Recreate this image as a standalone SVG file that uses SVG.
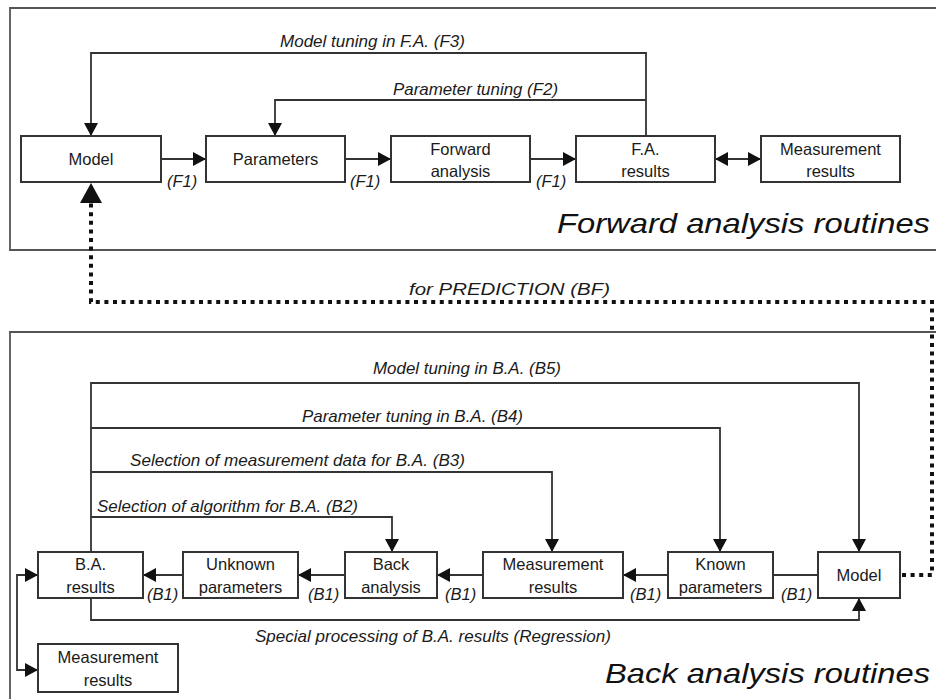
<svg xmlns="http://www.w3.org/2000/svg" width="936" height="699" viewBox="0 0 936 699">
  <style>
    .frame { fill: none; stroke: #555; stroke-width: 1.8; }
    .box rect { fill: #fff; stroke: #333; stroke-width: 2; }
    .box text { font-family: "Liberation Sans", Arial, sans-serif; font-size: 16.5px; fill: #1a1a1a; text-anchor: middle; }
    .wire { fill: none; stroke: #333; stroke-width: 1.8; }
    .dots { fill: none; stroke: #111; stroke-width: 4; stroke-dasharray: 4 4.6; }
    .lbl { font-family: "Liberation Sans", Arial, sans-serif; font-size: 16.5px; font-style: italic; fill: #1a1a1a; }
    .title { font-family: "Liberation Sans", Arial, sans-serif; font-size: 28px; font-style: italic; fill: #111; }
  </style>
  <defs>
    <marker id="ah" viewBox="0 0 13 14" refX="13" refY="7" markerWidth="13" markerHeight="14" markerUnits="userSpaceOnUse" orient="auto-start-reverse">
      <path d="M0,0 L13,7 L0,14 z" fill="#111"/>
    </marker>
    <marker id="ahBig" viewBox="0 0 20 22" refX="20" refY="11" markerWidth="20" markerHeight="22" markerUnits="userSpaceOnUse" orient="auto">
      <path d="M0,0 L20,11 L0,22 z" fill="#111"/>
    </marker>
  </defs>

  <!-- section frames -->
  <g id="frames">
    <path class="frame" d="M945,8 H10 V250 H945"/>
    <path class="frame" d="M945,332 H10 V710"/>
  </g>

  <!-- section titles -->
  <text class="title" x="557" y="233" textLength="373" lengthAdjust="spacingAndGlyphs">Forward analysis routines</text>
  <text class="title" x="605" y="683" textLength="325" lengthAdjust="spacingAndGlyphs">Back analysis routines</text>

  <!-- connectors -->
  <g id="connectors">
    <!-- forward chain -->
    <path class="wire" d="M161,159 H206" marker-end="url(#ah)"/>
    <path class="wire" d="M345,159 H391" marker-end="url(#ah)"/>
    <path class="wire" d="M530,159 H576" marker-end="url(#ah)"/>
    <path class="wire" d="M715,159 H761" marker-start="url(#ah)" marker-end="url(#ah)"/>
    <!-- forward feedback loops -->
    <path class="wire" d="M646,136 V53 H91 V136" marker-end="url(#ah)"/>
    <path class="wire" d="M646,100 H275 V136" marker-end="url(#ah)"/>

    <!-- prediction link -->
    <path class="dots" d="M902,575 H932 V302 H91 V183" marker-end="url(#ahBig)"/>

    <!-- back chain -->
    <path class="wire" d="M818,575 H773"/>
    <path class="wire" d="M668,575 H623" marker-end="url(#ah)"/>
    <path class="wire" d="M483,575 H437" marker-end="url(#ah)"/>
    <path class="wire" d="M345,575 H298" marker-end="url(#ah)"/>
    <path class="wire" d="M183,575 H143" marker-end="url(#ah)"/>

    <!-- back feedback loops -->
    <path class="wire" d="M91,552 V383 H859 V552" marker-end="url(#ah)"/>
    <path class="wire" d="M91,428 H720 V552" marker-end="url(#ah)"/>
    <path class="wire" d="M91,472 H552 V552" marker-end="url(#ah)"/>
    <path class="wire" d="M91,517 H392 V552" marker-end="url(#ah)"/>
    <path class="wire" d="M91,598 V620 H859 V598" marker-end="url(#ah)"/>

    <!-- results comparison -->
    <path class="wire" d="M38,575 H17 V670 H38" marker-start="url(#ah)" marker-end="url(#ah)"/>
  </g>

  <!-- connector labels -->
  <g id="labels">
    <text class="lbl" x="280" y="47" textLength="185" lengthAdjust="spacingAndGlyphs">Model tuning in F.A. (F3)</text>
    <text class="lbl" x="393" y="95" textLength="165" lengthAdjust="spacingAndGlyphs">Parameter tuning (F2)</text>
    <text class="lbl" x="167" y="187">(F1)</text>
    <text class="lbl" x="350" y="187">(F1)</text>
    <text class="lbl" x="536" y="187">(F1)</text>
    <text class="lbl" x="409" y="295" textLength="201" lengthAdjust="spacingAndGlyphs">for PREDICTION (BF)</text>
    <text class="lbl" x="373" y="374" textLength="188" lengthAdjust="spacingAndGlyphs">Model tuning in B.A. (B5)</text>
    <text class="lbl" x="302" y="422" textLength="221" lengthAdjust="spacingAndGlyphs">Parameter tuning in B.A. (B4)</text>
    <text class="lbl" x="130" y="466" textLength="335" lengthAdjust="spacingAndGlyphs">Selection of measurement data for B.A. (B3)</text>
    <text class="lbl" x="97" y="512" textLength="261" lengthAdjust="spacingAndGlyphs">Selection of algorithm for B.A. (B2)</text>
    <text class="lbl" x="147" y="600">(B1)</text>
    <text class="lbl" x="308" y="600">(B1)</text>
    <text class="lbl" x="445" y="600">(B1)</text>
    <text class="lbl" x="630" y="600">(B1)</text>
    <text class="lbl" x="781" y="600">(B1)</text>
    <text class="lbl" x="255" y="642" textLength="356" lengthAdjust="spacingAndGlyphs">Special processing of B.A. results (Regression)</text>
  </g>

  <!-- forward analysis nodes -->
  <g id="fa-model" class="box">
    <rect x="21" y="136" width="140" height="46"/>
    <text x="91" y="165">Model</text>
  </g>
  <g id="fa-parameters" class="box">
    <rect x="206" y="136" width="139" height="46"/>
    <text x="275.5" y="165">Parameters</text>
  </g>
  <g id="fa-forward-analysis" class="box">
    <rect x="391" y="136" width="139" height="46"/>
    <text x="460.5" y="155">Forward</text>
    <text x="460.5" y="177">analysis</text>
  </g>
  <g id="fa-results" class="box">
    <rect x="576" y="136" width="139" height="46"/>
    <text x="645.5" y="155">F.A.</text>
    <text x="645.5" y="177">results</text>
  </g>
  <g id="fa-measurement" class="box">
    <rect x="761" y="136" width="139" height="46"/>
    <text x="830.5" y="155">Measurement</text>
    <text x="830.5" y="177">results</text>
  </g>

  <!-- back analysis nodes -->
  <g id="ba-results" class="box">
    <rect x="38" y="552" width="105" height="46"/>
    <text x="90.5" y="570">B.A.</text>
    <text x="90.5" y="593">results</text>
  </g>
  <g id="ba-unknown-parameters" class="box">
    <rect x="183" y="552" width="115" height="46"/>
    <text x="240.5" y="570">Unknown</text>
    <text x="240.5" y="593">parameters</text>
  </g>
  <g id="ba-back-analysis" class="box">
    <rect x="345" y="552" width="92" height="46"/>
    <text x="391" y="570">Back</text>
    <text x="391" y="593">analysis</text>
  </g>
  <g id="ba-measurement" class="box">
    <rect x="483" y="552" width="140" height="46"/>
    <text x="553" y="570">Measurement</text>
    <text x="553" y="593">results</text>
  </g>
  <g id="ba-known-parameters" class="box">
    <rect x="668" y="552" width="105" height="46"/>
    <text x="720.5" y="570">Known</text>
    <text x="720.5" y="593">parameters</text>
  </g>
  <g id="ba-model" class="box">
    <rect x="818" y="552" width="82" height="46"/>
    <text x="859" y="581">Model</text>
  </g>
  <g id="ba-measurement-ref" class="box">
    <rect x="38" y="644" width="140" height="48"/>
    <text x="108" y="663">Measurement</text>
    <text x="108" y="686">results</text>
  </g>
</svg>
